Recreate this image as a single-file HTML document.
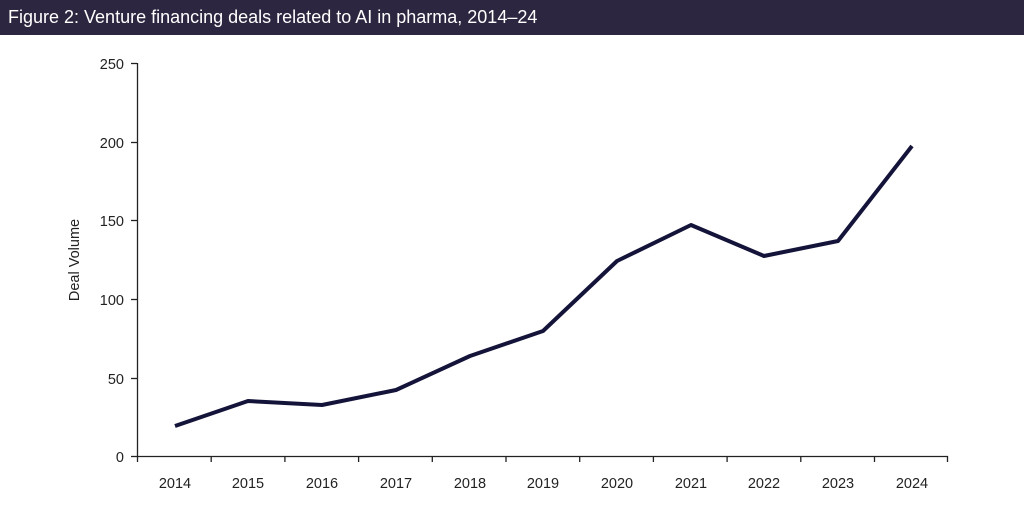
<!DOCTYPE html>
<html><head><style>
body{margin:0;width:1024px;height:513px;background:#fff;overflow:hidden;font-family:"Liberation Sans",sans-serif}
.h{position:absolute;left:0;top:0;width:1024px;height:35px;background:#2d2640;color:#fff;font-size:18px;line-height:35px;padding-left:8px;box-sizing:border-box}
</style></head><body>
<div class="h">Figure 2: Venture financing deals related to AI in pharma, 2014–24</div>
<svg style="position:absolute;left:0;top:0" width="1024" height="513" font-family="Liberation Sans, sans-serif" font-size="14.5" fill="#222">
<g stroke="#222" stroke-width="1.3" fill="none">
<line x1="137.5" y1="63" x2="137.5" y2="457"/>
<line x1="137" y1="456.5" x2="948" y2="456.5"/>
<line x1="131" y1="63.5" x2="137" y2="63.5"/>
<line x1="131" y1="142.5" x2="137" y2="142.5"/>
<line x1="131" y1="220.5" x2="137" y2="220.5"/>
<line x1="131" y1="299.5" x2="137" y2="299.5"/>
<line x1="131" y1="378.5" x2="137" y2="378.5"/>
<line x1="131" y1="456.5" x2="137" y2="456.5"/>
<path d="M137.5 456v6M211.2 456v6M284.9 456v6M358.6 456v6M432.3 456v6M506 456v6M579.7 456v6M653.4 456v6M727.1 456v6M800.8 456v6M874.5 456v6M947.5 456v6"/>
</g>
<g text-anchor="end">
<text x="124" y="69">250</text><text x="124" y="148">200</text><text x="124" y="226">150</text>
<text x="124" y="305">100</text><text x="124" y="384">50</text><text x="124" y="462">0</text>
</g>
<g text-anchor="middle">
<text x="175" y="488">2014</text><text x="248" y="488">2015</text><text x="322" y="488">2016</text>
<text x="396" y="488">2017</text><text x="470" y="488">2018</text><text x="543" y="488">2019</text>
<text x="617" y="488">2020</text><text x="691" y="488">2021</text><text x="764" y="488">2022</text>
<text x="838" y="488">2023</text><text x="912" y="488">2024</text>
</g>
<text transform="translate(79,260) rotate(-90)" text-anchor="middle">Deal Volume</text>
<polyline fill="none" stroke="#14143a" stroke-width="4" stroke-linejoin="round" points="175,426 248,401 322,405 396,390 470,356 543,331 617,261 691,225 764,256 838,241 912,146"/>
</svg>
</body></html>
